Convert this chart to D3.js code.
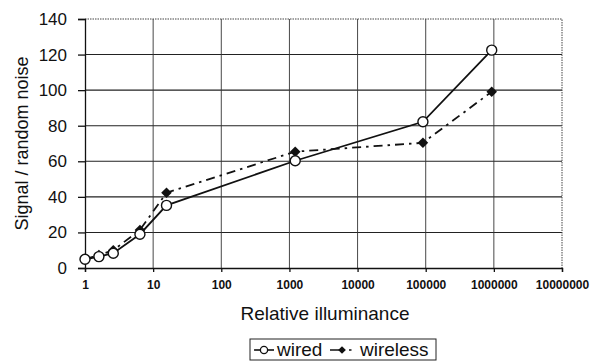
<!DOCTYPE html>
<html>
<head>
<meta charset="utf-8">
<script src="https://cdn.jsdelivr.net/npm/d3@7"></script>
<style>
  body { margin: 0; background: #fff; }
  text { font-family: "Liberation Sans", Arial, sans-serif; fill: #111; }
</style>
</head>
<body>
<div id="chart"></div>
<script>
// illuminance values (x) shared by both series
const illuminance = [1, 1.6, 2.6, 6.4, 15.7, 1216, 91000, 930000];
const wired = [4.9, 6.4, 8.3, 19, 35.2, 60.3, 82.2, 122.5];
const wireless = [5, 7.3, 10, 21.4, 42.3, 65.4, 70.4, 99.1];
const xTicks = [1, 10, 100, 1000, 10000, 100000, 1000000, 10000000];
const yTicks = [0, 20, 40, 60, 80, 100, 120, 140];

const width = 592, height = 362;
const margin = {top: 19, right: 30, bottom: 94, left: 85};

const svg = d3.select('#chart').append('svg')
    .attr('width', width)
    .attr('height', height);

const x = d3.scaleLog()
    .domain([1, 10000000])
    .range([margin.left, width - margin.right]);

const y = d3.scaleLinear()
    .domain([0, 140])
    .range([height - margin.bottom, margin.top]);

// grid
svg.append('g')
  .selectAll('line')
    .data(yTicks.slice(1, -1))
  .enter().append('line')
    .attr('x1', margin.left)
    .attr('x2', width - margin.right)
    .attr('y1', d => y(d))
    .attr('y2', d => y(d))
    .attr('stroke', '#222')
    .attr('stroke-width', 1.1);

svg.append('g')
  .selectAll('line')
    .data(xTicks.slice(1, -1))
  .enter().append('line')
    .attr('x1', d => x(d))
    .attr('x2', d => x(d))
    .attr('y1', margin.top)
    .attr('y2', height - margin.bottom)
    .attr('stroke', '#333')
    .attr('stroke-width', 0.9);

// top and right frame, dotted
svg.append('path')
    .attr('d', `M${margin.left},${margin.top}H${width - margin.right}V${height - margin.bottom}`)
    .attr('fill', 'none')
    .attr('stroke', '#444')
    .attr('stroke-width', 1)
    .attr('stroke-dasharray', '1.5,1');

// axes
const xAxis = svg.append('g')
    .attr('transform', `translate(0,${height - margin.bottom})`)
    .call(d3.axisBottom(x).tickValues(xTicks).tickFormat(d3.format('d')).tickSize(4).tickPadding(8));

const yAxis = svg.append('g')
    .attr('transform', `translate(${margin.left},0)`)
    .call(d3.axisLeft(y).tickValues(yTicks).tickSize(7).tickPadding(11));

xAxis.selectAll('text').style('font-size', '12px').style('font-weight', 'bold').attr('fill', '#111');
yAxis.selectAll('text').style('font-size', '17px').attr('fill', '#111');
svg.selectAll('.domain, .tick line').attr('stroke', '#111').attr('stroke-width', 1.3);

// axis titles
svg.append('text')
    .attr('x', 325)
    .attr('y', 320)
    .attr('text-anchor', 'middle')
    .style('font-size', '19px')
    .text('Relative illuminance');

svg.append('text')
    .attr('transform', `translate(28,${(margin.top + height - margin.bottom) / 2}) rotate(-90)`)
    .attr('text-anchor', 'middle')
    .style('font-size', '18px')
    .text('Signal / random noise');

// series
const wiredPts = illuminance.map((v, i) => [v, wired[i]]);
const wirelessPts = illuminance.map((v, i) => [v, wireless[i]]);

const line = d3.line()
    .x(d => x(d[0]))
    .y(d => y(d[1]));

svg.append('path')
    .datum(wirelessPts)
    .attr('d', line)
    .attr('fill', 'none')
    .attr('stroke', '#111')
    .attr('stroke-width', 1.8)
    .attr('stroke-dasharray', '9,5,2.5,5');

svg.append('path')
    .datum(wiredPts)
    .attr('d', line)
    .attr('fill', 'none')
    .attr('stroke', '#111')
    .attr('stroke-width', 1.8);

// Excel-style diamond: a square turned 45 degrees
const diamond = d3.symbol().type(d3.symbolSquare).size(56);

svg.append('g')
  .selectAll('path')
    .data(wirelessPts)
  .enter().append('path')
    .attr('transform', d => `translate(${x(d[0])},${y(d[1])}) rotate(45)`)
    .attr('d', diamond)
    .attr('fill', '#111');

svg.append('g')
  .selectAll('circle')
    .data(wiredPts)
  .enter().append('circle')
    .attr('cx', d => x(d[0]))
    .attr('cy', d => y(d[1]))
    .attr('r', 5)
    .attr('fill', '#fff')
    .attr('stroke', '#111')
    .attr('stroke-width', 1.4);

// legend
const legend = svg.append('g').attr('transform', 'translate(250,339)');

legend.append('rect')
    .attr('width', 186)
    .attr('height', 21)
    .attr('fill', '#fff')
    .attr('stroke', '#222')
    .attr('stroke-width', 1);

legend.append('line')
    .attr('x1', 4).attr('x2', 24).attr('y1', 11).attr('y2', 11)
    .attr('stroke', '#111').attr('stroke-width', 1.6);
legend.append('circle')
    .attr('cx', 14).attr('cy', 11).attr('r', 3.6)
    .attr('fill', '#fff').attr('stroke', '#111').attr('stroke-width', 1.3);
legend.append('text')
    .attr('x', 27).attr('y', 17)
    .style('font-size', '19px')
    .text('wired');

legend.append('line')
    .attr('x1', 80).attr('x2', 106).attr('y1', 11).attr('y2', 11)
    .attr('stroke', '#111').attr('stroke-width', 1.6)
    .attr('stroke-dasharray', '14,5,2.5,5');
legend.append('path')
    .attr('transform', 'translate(92,11) rotate(45)')
    .attr('d', d3.symbol().type(d3.symbolSquare).size(30))
    .attr('fill', '#111');
legend.append('text')
    .attr('x', 110).attr('y', 17)
    .style('font-size', '19px')
    .text('wireless');
</script>
</body>
</html>
